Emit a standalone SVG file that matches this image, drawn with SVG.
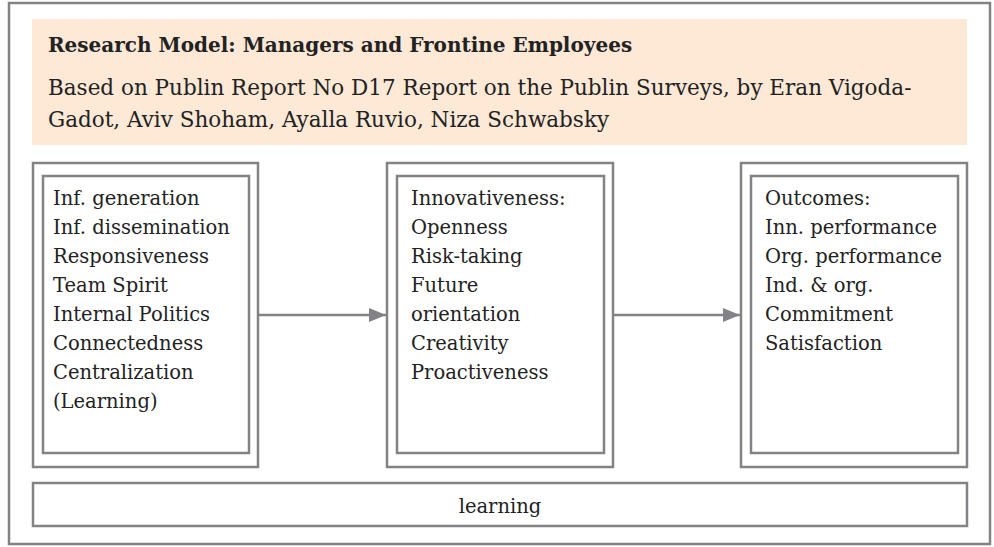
<svg xmlns="http://www.w3.org/2000/svg" width="994" height="547" viewBox="0 0 994 547">
<defs>
<style>
.frame{fill:#fff;stroke:#838387;stroke-width:2.5}
.box{fill:none;stroke:#838387;stroke-width:2.5}
.txt{font-family:"DejaVu Serif","Liberation Serif",serif;font-size:19.5px;fill:#222}
.title{font-family:"DejaVu Serif","Liberation Serif",serif;font-size:20px;font-weight:bold;fill:#222}
.sub{font-family:"DejaVu Serif","Liberation Serif",serif;font-size:21.5px;fill:#222}
.conn{stroke:#838387;stroke-width:2.5;fill:none}
</style>
<marker id="arr" viewBox="0 0 17 14" refX="17" refY="7" markerWidth="17" markerHeight="14" markerUnits="userSpaceOnUse" orient="auto"><path d="M0,0 L17,7 L0,14 z" fill="#838387"/></marker>
</defs>
<rect x="0" y="0" width="994" height="547" fill="#fff"/>
<rect class="frame" x="9" y="3" width="981" height="541"/>
<g id="header">
<rect x="32" y="19" width="935" height="126" fill="#fde9d6"/>
<text class="title" x="48" y="52">Research Model: Managers and Frontine Employees</text>
<text class="sub" x="48" y="95">Based on Publin Report No D17 Report on the Publin Surveys, by Eran Vigoda-</text>
<text class="sub" x="48" y="127">Gadot, Aviv Shoham, Ayalla Ruvio, Niza Schwabsky</text>
</g>
<g id="node1">
<rect class="box" x="33" y="163" width="225" height="304"/>
<rect class="box" x="43" y="176" width="206" height="277"/>
<text class="txt" x="53"><tspan x="53" y="205">Inf. generation</tspan><tspan x="53" y="234">Inf. dissemination</tspan><tspan x="53" y="263">Responsiveness</tspan><tspan x="53" y="292">Team Spirit</tspan><tspan x="53" y="321">Internal Politics</tspan><tspan x="53" y="350">Connectedness</tspan><tspan x="53" y="379">Centralization</tspan><tspan x="53" y="408">(Learning)</tspan></text>
</g>
<g id="node2">
<rect class="box" x="387" y="163" width="226" height="304"/>
<rect class="box" x="397" y="176" width="207" height="277"/>
<text class="txt" x="411"><tspan x="411" y="205">Innovativeness:</tspan><tspan x="411" y="234">Openness</tspan><tspan x="411" y="263">Risk-taking</tspan><tspan x="411" y="292">Future</tspan><tspan x="411" y="321">orientation</tspan><tspan x="411" y="350">Creativity</tspan><tspan x="411" y="379">Proactiveness</tspan></text>
</g>
<g id="node3">
<rect class="box" x="741" y="163" width="226" height="304"/>
<rect class="box" x="751" y="176" width="207" height="277"/>
<text class="txt" x="765"><tspan x="765" y="205">Outcomes:</tspan><tspan x="765" y="234">Inn. performance</tspan><tspan x="765" y="263">Org. performance</tspan><tspan x="765" y="292">Ind. &amp; org.</tspan><tspan x="765" y="321">Commitment</tspan><tspan x="765" y="350">Satisfaction</tspan></text>
</g>
<g id="learning">
<rect class="box" x="33" y="483" width="934" height="43"/>
<text class="txt" x="500" y="513" text-anchor="middle">learning</text>
</g>
<g id="connectors">
<line class="conn" x1="259" y1="315" x2="386" y2="315" marker-end="url(#arr)"/>
<line class="conn" x1="614" y1="315" x2="740" y2="315" marker-end="url(#arr)"/>
</g>
</svg>
